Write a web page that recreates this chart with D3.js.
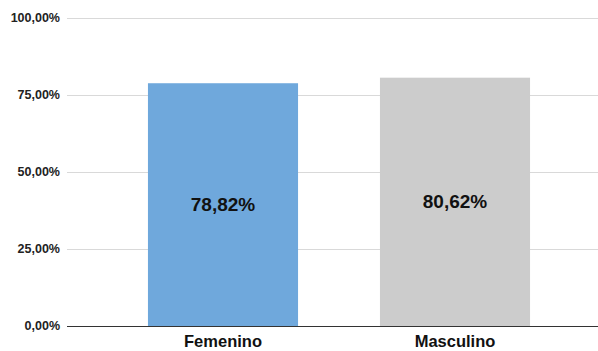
<!DOCTYPE html>
<html>
<head>
<meta charset="utf-8">
<script src="https://cdn.jsdelivr.net/npm/d3@7"></script>
<style>
  html, body { margin: 0; padding: 0; background: #fff; }
  svg { display: block; font-family: "Liberation Sans", Arial, sans-serif; }
</style>
</head>
<body>
<svg id="chart" width="598" height="351"></svg>
<script>
const categories = ["Femenino", "Masculino"];
const values = [78.82, 80.62];
const barColors = ["#6fa8dc", "#cccccc"];
const tickValues = [0, 25, 50, 75, 100];

const svg = d3.select("#chart");
const fmt = v => d3.format(".2f")(v).replace(".", ",") + "%";

const y = d3.scaleLinear().domain([0, 100]).range([326, 18]);
const x = d3.scaleBand().domain(categories).range([107, 571])
  .paddingInner(0.353).paddingOuter(0.1765);

// gridlines
svg.append("g").selectAll("line").data(tickValues.filter(t => t > 0)).join("line")
  .attr("x1", 67).attr("x2", 598)
  .attr("y1", d => Math.round(y(d)) + 0.5).attr("y2", d => Math.round(y(d)) + 0.5)
  .attr("stroke", "#d9d9d9").attr("stroke-width", 1);

// y tick labels
svg.append("g").selectAll("text").data(tickValues).join("text")
  .attr("x", 60).attr("y", d => y(d))
  .attr("dy", "0.35em").attr("text-anchor", "end")
  .attr("font-size", 12.5).attr("font-weight", "bold").attr("fill", "#222")
  .text(fmt);

// bars
svg.append("g").selectAll("rect").data(values).join("rect")
  .attr("x", (d, i) => x(categories[i]))
  .attr("width", x.bandwidth())
  .attr("y", d => y(d))
  .attr("height", d => y(0) - y(d))
  .attr("fill", (d, i) => barColors[i]);

// baseline
svg.append("line")
  .attr("x1", 67).attr("x2", 598)
  .attr("y1", y(0) + 0.5).attr("y2", y(0) + 0.5)
  .attr("stroke", "#333").attr("stroke-width", 1);

// value labels
svg.append("g").selectAll("text").data(values).join("text")
  .attr("x", (d, i) => x(categories[i]) + x.bandwidth() / 2)
  .attr("y", d => (y(d) + y(0)) / 2)
  .attr("dy", "0.35em").attr("text-anchor", "middle")
  .attr("font-size", 19).attr("font-weight", "bold").attr("fill", "#111")
  .text(fmt);

// category labels
svg.append("g").selectAll("text").data(categories).join("text")
  .attr("x", d => x(d) + x.bandwidth() / 2)
  .attr("y", 347)
  .attr("text-anchor", "middle")
  .attr("font-size", 16.5).attr("font-weight", "bold").attr("fill", "#111")
  .text(d => d);
</script>
</body>
</html>
